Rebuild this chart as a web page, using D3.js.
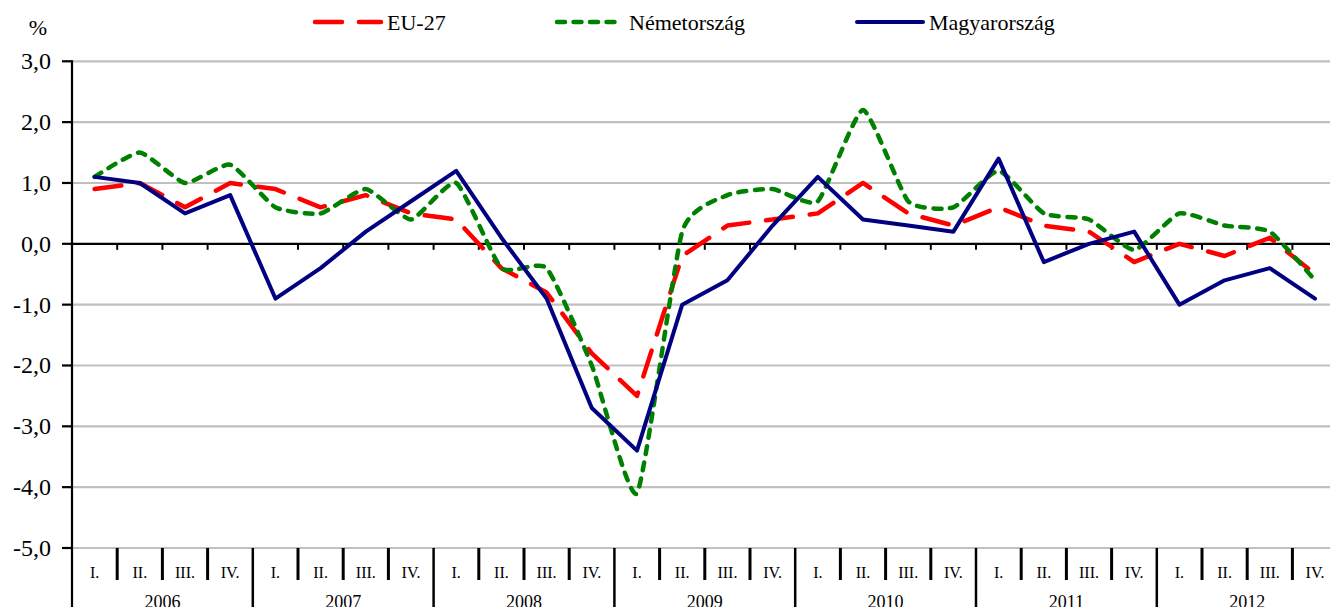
<!DOCTYPE html>
<html>
<head>
<meta charset="utf-8">
<script src="https://cdn.jsdelivr.net/npm/d3@7"></script>
<style>
	body { margin: 0; background: #fff; }
	svg { display: block; font-family: 'Liberation Serif', 'Times New Roman', serif; }
</style>
</head>
<body>
<script>
const YEARS = ['2006', '2007', '2008', '2009', '2010', '2011', '2012'];
const QUARTERS = ['I.', 'II.', 'III.', 'IV.'];
const Y_TICKS = [3, 2, 1, 0, -1, -2, -3, -4, -5];

const EU27 = [0.9, 1.0, 0.6, 1.0, 0.9, 0.6, 0.8, 0.5, 0.4, -0.4, -0.8, -1.8, -2.5, -0.2, 0.3, 0.4,
	0.5, 1.0, 0.5, 0.3, 0.6, 0.3, 0.2, -0.3, 0.0, -0.2, 0.1, -0.5];
const NEMET = [1.1, 1.5, 1.0, 1.3, 0.6, 0.5, 0.9, 0.4, 1.0, -0.4, -0.4, -2.0, -4.1, 0.2, 0.8, 0.9,
	0.7, 2.2, 0.7, 0.6, 1.2, 0.5, 0.4, -0.1, 0.5, 0.3, 0.2, -0.6];
const MAGYAR = [1.1, 1.0, 0.5, 0.8, -0.9, -0.4, 0.2, 0.7, 1.2, 0.1, -0.9, -2.7, -3.4, -1.0, -0.6, 0.3,
	1.1, 0.4, 0.3, 0.2, 1.4, -0.3, 0.0, 0.2, -1.0, -0.6, -0.4, -0.9];

const SERIES = [
	{ name: 'EU-27', values: EU27, color: '#ff0000', dash: '27 17', width: 4.5, curve: d3.curveLinear },
	{ name: 'Németország', values: NEMET, color: '#008000', dash: '8 8.5', width: 4.5, curve: d3.curveCardinal.tension(0.5) },
	{ name: 'Magyarország', values: MAGYAR, color: '#000080', dash: null, width: 4, curve: d3.curveLinear }
];

const W = 1330, H = 607;
const left = 72, bandW = 45.2;
const n = YEARS.length * QUARTERS.length;

let svg = d3.select('body').append('svg')
	.attr('width', W)
	.attr('height', H);

let x = d3.scaleBand()
	.domain(d3.range(n))
	.range([left, left + n * bandW]);

let y = d3.scaleLinear()
	.domain([-5, 3])
	.range([548, 61.3]);

// grid
svg.append('g')
	.selectAll('line')
	.data(Y_TICKS.filter(t => t !== 0))
	.enter()
	.append('line')
	.attr('x1', left)
	.attr('x2', W)
	.attr('y1', t => y(t))
	.attr('y2', t => y(t))
	.attr('stroke', '#c0c0c0')
	.attr('stroke-width', 2.2);

// y axis labels
svg.append('g')
	.selectAll('text')
	.data(Y_TICKS)
	.enter()
	.append('text')
	.attr('x', 51)
	.attr('y', t => y(t) + 8)
	.attr('text-anchor', 'end')
	.attr('font-size', 24)
	.text(t => d3.format('.1f')(t).replace('.', ',').replace('−', '-'));

svg.append('text')
	.attr('x', 38)
	.attr('y', 35)
	.attr('text-anchor', 'middle')
	.attr('font-size', 22)
	.text('%');

// y ticks + axis
svg.append('g')
	.selectAll('line')
	.data(Y_TICKS)
	.enter()
	.append('line')
	.attr('x1', 62)
	.attr('x2', left)
	.attr('y1', t => y(t))
	.attr('y2', t => y(t))
	.attr('stroke', '#000')
	.attr('stroke-width', 2.2);

svg.append('line')
	.attr('x1', left)
	.attr('x2', left)
	.attr('y1', y(3) - 1)
	.attr('y2', H)
	.attr('stroke', '#000')
	.attr('stroke-width', 2.2);

// zero line with small ticks
let boundaries = d3.range(1, n + 1);
svg.append('line')
	.attr('x1', left)
	.attr('x2', W)
	.attr('y1', y(0))
	.attr('y2', y(0))
	.attr('stroke', '#000')
	.attr('stroke-width', 2.2);

svg.append('g')
	.selectAll('line')
	.data(boundaries)
	.enter()
	.append('line')
	.attr('x1', i => left + i * bandW)
	.attr('x2', i => left + i * bandW)
	.attr('y1', y(0))
	.attr('y2', y(0) + 6)
	.attr('stroke', '#000')
	.attr('stroke-width', 2);

// category separators
svg.append('g')
	.selectAll('line')
	.data(boundaries)
	.enter()
	.append('line')
	.attr('x1', i => left + i * bandW)
	.attr('x2', i => left + i * bandW)
	.attr('y1', y(-5))
	.attr('y2', i => i % 4 === 0 ? H : 580)
	.attr('stroke', '#000')
	.attr('stroke-width', i => i % 4 === 0 ? 2.5 : 3);

svg.append('g')
	.selectAll('text')
	.data(d3.range(n))
	.enter()
	.append('text')
	.attr('x', i => x(i) + bandW / 2)
	.attr('y', 577.5)
	.attr('text-anchor', 'middle')
	.attr('font-size', 16)
	.text(i => QUARTERS[i % 4]);

svg.append('g')
	.selectAll('text')
	.data(YEARS)
	.enter()
	.append('text')
	.attr('x', (yr, i) => left + (i * 4 + 2) * bandW)
	.attr('y', 607.5)
	.attr('text-anchor', 'middle')
	.attr('font-size', 18)
	.text(yr => yr);

// series
SERIES.forEach(s => {
	let line = d3.line()
		.x((v, i) => x(i) + bandW / 2)
		.y(v => y(v))
		.curve(s.curve);
	svg.append('path')
		.datum(s.values)
		.attr('d', line)
		.attr('fill', 'none')
		.attr('stroke', s.color)
		.attr('stroke-width', s.width)
		.attr('stroke-linejoin', 'round')
		.attr('stroke-linecap', 'round')
		.attr('stroke-dasharray', s.dash);
});

// legend
const LEGEND_X = [315, 557, 857];
let legend = svg.append('g')
	.selectAll('g')
	.data(SERIES)
	.enter()
	.append('g')
	.attr('transform', (s, i) => `translate(${LEGEND_X[i]}, 22)`);

legend.append('line')
	.attr('x1', 0)
	.attr('x2', 66)
	.attr('stroke', s => s.color)
	.attr('stroke-width', s => s.width)
	.attr('stroke-linecap', 'round')
	.attr('stroke-dasharray', s => s.dash);

legend.append('text')
	.attr('x', 72)
	.attr('y', 8)
	.attr('font-size', 22)
	.text(s => s.name);
</script>
</body>
</html>
